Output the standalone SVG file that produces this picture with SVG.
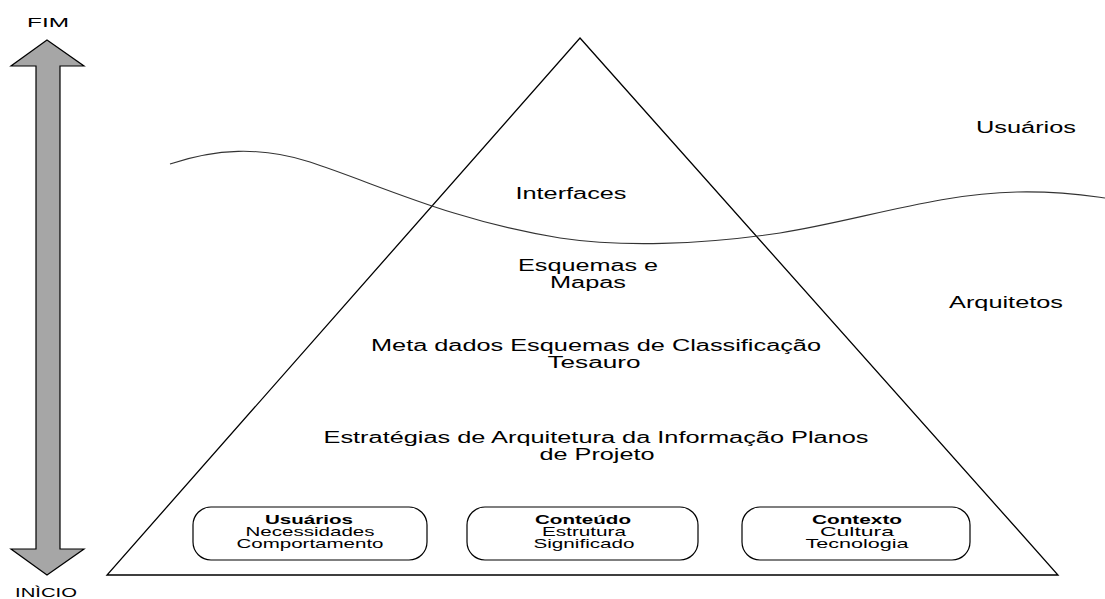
<svg xmlns="http://www.w3.org/2000/svg" width="1105" height="599" viewBox="0 0 1105 599">
  <style>
    text { font-family: "Liberation Sans", Arial, sans-serif; fill: #000; text-anchor: middle; }
    .lvl { font-size: 16px; }
    .side { font-size: 16px; }
    .end { font-size: 13px; text-anchor: start; }
    .box { fill: #fff; stroke: #000; stroke-width: 1.2; }
    .bt { font-size: 13px; }
    .b { font-weight: bold; }
  </style>
  <rect width="1105" height="599" fill="#fff"/>

  <!-- time axis: double-headed arrow -->
  <g id="axis">
    <polygon points="47,40 84,66 60,66 60,549 84,549 47,575 11,549 36,549 36,66 11,66" fill="#a6a6a6" stroke="#000" stroke-width="1.2" stroke-linejoin="miter"/>
    <text class="end" x="27" y="27" textLength="42" lengthAdjust="spacingAndGlyphs">FIM</text>
    <text class="end" x="15" y="597" textLength="62" lengthAdjust="spacingAndGlyphs">INÌCIO</text>
  </g>

  <!-- pyramid -->
  <g id="pyramid">
    <polygon points="580,38 1058,575 107,575" fill="none" stroke="#000" stroke-width="1.3"/>
  </g>

  <!-- boundary curve between users and architects -->
  <g id="connectors">
    <path d="M170,164 C215,149 260,146 310,162 C380,185 450,220 560,238 C620,247 700,245 780,233 C860,220 940,193 1017,192 C1060,191 1090,196 1105,198" fill="none" stroke="#333" stroke-width="1.1"/>
  </g>

  <g id="side-labels">
    <text class="side" x="1026" y="133" textLength="100" lengthAdjust="spacingAndGlyphs">Usuários</text>
    <text class="side" x="1006" y="308" textLength="114" lengthAdjust="spacingAndGlyphs">Arquitetos</text>
  </g>

  <g id="level-interfaces">
    <text class="lvl" x="571" y="199" textLength="111" lengthAdjust="spacingAndGlyphs">Interfaces</text>
  </g>
  <g id="level-esquemas">
    <text class="lvl" x="588" y="271" textLength="140" lengthAdjust="spacingAndGlyphs">Esquemas e</text>
    <text class="lvl" x="588" y="288" textLength="76" lengthAdjust="spacingAndGlyphs">Mapas</text>
  </g>
  <g id="level-metadados">
    <text class="lvl" x="596" y="351" textLength="450" lengthAdjust="spacingAndGlyphs">Meta dados Esquemas de Classificação</text>
    <text class="lvl" x="594" y="368" textLength="93" lengthAdjust="spacingAndGlyphs">Tesauro</text>
  </g>
  <g id="level-estrategias">
    <text class="lvl" x="596" y="443" textLength="545" lengthAdjust="spacingAndGlyphs">Estratégias de Arquitetura da Informação Planos</text>
    <text class="lvl" x="597" y="460" textLength="115" lengthAdjust="spacingAndGlyphs">de Projeto</text>
  </g>

  <g id="box-usuarios">
    <rect class="box" x="193" y="507" width="234" height="53" rx="18"/>
    <text class="bt b" x="309" y="524" textLength="88" lengthAdjust="spacingAndGlyphs">Usuários</text>
    <text class="bt" x="310" y="536" textLength="129" lengthAdjust="spacingAndGlyphs">Necessidades</text>
    <text class="bt" x="310" y="548" textLength="147" lengthAdjust="spacingAndGlyphs">Comportamento</text>
  </g>
  <g id="box-conteudo">
    <rect class="box" x="467" y="507" width="231" height="53" rx="18"/>
    <text class="bt b" x="583" y="524" textLength="96" lengthAdjust="spacingAndGlyphs">Conteúdo</text>
    <text class="bt" x="584" y="536" textLength="84" lengthAdjust="spacingAndGlyphs">Estrutura</text>
    <text class="bt" x="584" y="548" textLength="101" lengthAdjust="spacingAndGlyphs">Significado</text>
  </g>
  <g id="box-contexto">
    <rect class="box" x="742" y="507" width="228" height="53" rx="18"/>
    <text class="bt b" x="857" y="524" textLength="90" lengthAdjust="spacingAndGlyphs">Contexto</text>
    <text class="bt" x="857" y="536" textLength="74" lengthAdjust="spacingAndGlyphs">Cultura</text>
    <text class="bt" x="857" y="548" textLength="103" lengthAdjust="spacingAndGlyphs">Tecnologia</text>
  </g>
</svg>
